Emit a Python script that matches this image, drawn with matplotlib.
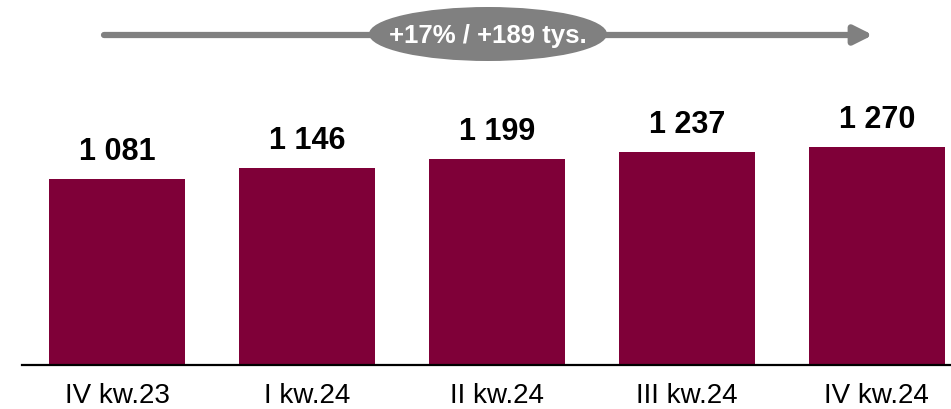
import matplotlib.pyplot as plt
from matplotlib.patches import Ellipse

plt.rcParams["font.family"] = ["Liberation Sans", "DejaVu Sans"]

quarters = ["IV kw.23", "I kw.24", "II kw.24", "III kw.24", "IV kw.24"]
values = [1081, 1146, 1199, 1237, 1270]
labels = ["1 081", "1 146", "1 199", "1 237", "1 270"]
growth_label = "+17% / +189 tys."

bar_color = "#7F0038"
grey = "#808080"

fig = plt.figure(figsize=(9.51, 4.10), dpi=100)
ax = fig.add_axes([22 / 951, 44 / 410, 1 - 22 / 951, 366 / 410])

x = range(len(quarters))
ax.bar(x, values, width=0.716, color=bar_color)
for xi, v, lab in zip(x, values, labels):
    ax.text(xi, v + 75, lab, ha="center", va="bottom",
            fontsize=22, fontweight="bold", color="#000000")

ax.set_xlim(-0.5, 4.39)
ax.set_ylim(0, 2128)
ax.set_xticks(list(x))
ax.set_xticklabels(quarters, fontsize=20)
ax.tick_params(axis="x", length=0, pad=12)
ax.set_yticks([])
for side in ["top", "right", "left"]:
    ax.spines[side].set_visible(False)
ax.spines["bottom"].set_linewidth(1.6)
ax.spines["bottom"].set_color("#000000")

# overlay in pixel coordinates for the growth arrow
ov = fig.add_axes([0, 0, 1, 1], facecolor="none")
ov.set_xlim(0, 951)
ov.set_ylim(410, 0)
ov.axis("off")
ov.annotate("", xy=(873, 36), xytext=(104, 36),
            arrowprops=dict(arrowstyle="-|>,head_length=1.1,head_width=0.55",
                            lw=4.5, color=grey, shrinkA=0, shrinkB=0))
ov.add_patch(Ellipse((488, 35), 238, 54, facecolor=grey, edgecolor="none"))
ov.text(488, 36, growth_label, ha="center", va="center", fontsize=18.5,
        fontweight="bold", color="white")

fig.savefig("out.png", dpi=100)
